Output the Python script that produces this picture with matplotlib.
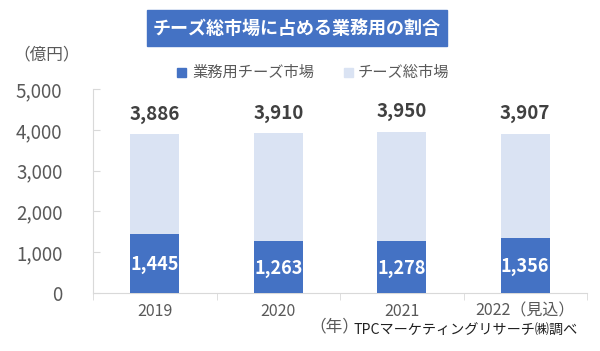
import numpy as np
import matplotlib.pyplot as plt
from matplotlib.patches import Rectangle

plt.rcParams['font.family'] = ['Noto Sans CJK JP', 'DejaVu Sans']

years = ['2019', '2020', '2021', '2022（見込）']
total = [3886, 3910, 3950, 3907]
business = [1445, 1263, 1278, 1356]

BLUE = '#4472C4'
LIGHT = '#DAE3F3'
GRAY = '#595959'
AXIS = '#D9D9D9'

fig = plt.figure(figsize=(6, 3.51), dpi=100)
ax = fig.add_axes([93/600, 1 - 293/351, 494/600, 204/351])

x = np.arange(len(years))
ax.bar(x, total, width=0.4, color=LIGHT, zorder=2)
ax.bar(x, business, width=0.4, color=BLUE, zorder=3)

for xi, t, b in zip(x, total, business):
    ax.text(xi, t + 500, f'{t:,}', ha='center', va='center', fontsize=13.5,
            fontweight='bold', color='#404040')
    ax.text(xi, b / 2 - 30, f'{b:,}', ha='center', va='center', fontsize=13,
            fontweight='bold', color='white', zorder=4)

ax.set_xlim(-0.5, len(years) - 0.5)
ax.set_ylim(0, 5000)
ax.set_yticks(range(0, 5001, 1000))
ax.set_yticklabels([f'{v:,}' for v in range(0, 5001, 1000)])
ax.set_xticks(x)
ax.set_xticklabels(years)
ax.set_xticks(np.arange(-0.5, len(years)), minor=True)

for s in ['top', 'right']:
    ax.spines[s].set_visible(False)
for s in ['left', 'bottom']:
    ax.spines[s].set_color(AXIS)

ax.tick_params(axis='y', direction='in', length=5, color=AXIS, labelsize=13.5,
               labelcolor=GRAY, pad=22)
ax.tick_params(axis='x', which='major', length=0, labelsize=11.5,
               labelcolor=GRAY, pad=7)
ax.tick_params(axis='x', which='minor', length=5, color=AXIS)

# title box
fig.patches.append(Rectangle((147/600, 1 - 46/351), 300/600, 36/351,
                             transform=fig.transFigure, color=BLUE))
fig.text(297/600, 1 - 28/351, 'チーズ総市場に占める業務用の割合', ha='center',
         va='center', fontsize=13, fontweight='bold', color='white')

# legend
fig.patches.append(Rectangle((177/600, 1 - 77/351), 9/600, 9/351,
                             transform=fig.transFigure, color=BLUE))
fig.text(192/600, 1 - 72/351, '業務用チーズ市場', ha='left', va='center',
         fontsize=11, color=GRAY)
fig.patches.append(Rectangle((344/600, 1 - 77/351), 9/600, 9/351,
                             transform=fig.transFigure, color=LIGHT))
fig.text(358/600, 1 - 72/351, 'チーズ総市場', ha='left', va='center',
         fontsize=11, color=GRAY)

fig.text(47/600, 1 - 55/351, '（億円）', ha='center', va='center',
         fontsize=12, color=GRAY)
fig.text(334/600, 1 - 327/351, '（年）', ha='center', va='center',
         fontsize=12, color=GRAY)
fig.text(353/600, 1 - 331/351, 'TPCマーケティングリサーチ㈱調べ', ha='left',
         va='center', fontsize=10.2, color='#202020')

fig.savefig('out.png', dpi=100)
